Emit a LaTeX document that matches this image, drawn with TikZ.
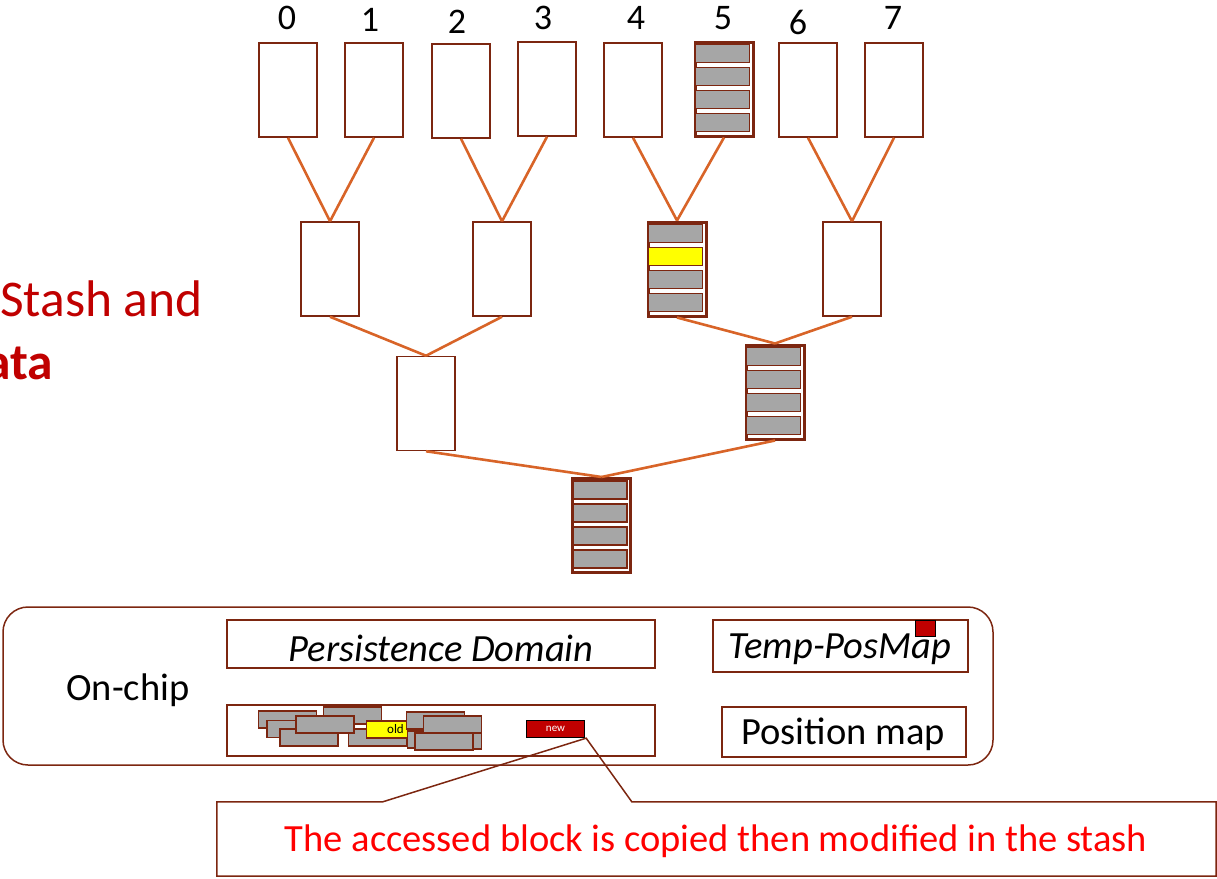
\documentclass[tikz,border=0pt]{standalone}
\usepackage{fontspec}
\setmainfont{Carlito}
\usetikzlibrary{calc}
\definecolor{brn}{RGB}{124,38,16}
\definecolor{edgeorange}{RGB}{216,100,40}
\definecolor{slotgray}{RGB}{166,166,166}
\definecolor{darkred}{RGB}{192,0,0}
\definecolor{slotyellow}{RGB}{255,255,0}
\begin{document}
\begin{tikzpicture}[x=1pt,y=-1pt,
  bucket/.style={draw=brn,line width=1.5pt,fill=white,minimum width=58pt,minimum height=94pt,inner sep=0pt},
  fullbucket/.style={bucket,line width=3pt},
  slot/.style={draw=brn,line width=1.5pt,fill=slotgray},
  treeedge/.style={draw=edgeorange,line width=2.6pt},
  idx/.style={font=\fontsize{36}{38}\selectfont,inner sep=0pt},
  panel/.style={draw=brn,line width=1.5pt,inner sep=0pt},
  blk/.style={draw=brn,line width=1.3pt,fill=slotgray,minimum width=58pt,minimum height=17pt,inner sep=0pt},
  bigtxt/.style={font=\fontsize{38.5}{42}\selectfont}
]
\useasboundingbox (0,0) rectangle (1217,878);

% heading fragment on the left
\node[anchor=east,text=darkred,font=\fontsize{51.5}{56}\selectfont,inner sep=0pt] (head1) at (203,299) {Stash and};
\node[anchor=east,text=darkred,font=\fontsize{51.5}{56}\selectfont\bfseries,inner sep=0pt] (head2) at (53,362) {data};

% leaves
\node[bucket] (l0) at (288,90) {};
\node[bucket] (l1) at (374,90) {};
\node[bucket] (l2) at (461,91) {};
\node[bucket] (l3) at (547,89) {};
\node[bucket] (l4) at (633,90) {};
\node[fullbucket] (l5) at (724,89) {};
\node[bucket] (l6) at (808,90) {};
\node[bucket] (l7) at (894,90) {};

% leaf indices
\node[idx] (i0) at (287,18) {0};
\node[idx] (i1) at (370,20) {1};
\node[idx] (i2) at (457,22) {2};
\node[idx] (i3) at (543,18) {3};
\node[idx] (i4) at (636,18) {4};
\node[idx] (i5) at (723,18) {5};
\node[idx] (i6) at (798,22) {6};
\node[idx] (i7) at (893,18) {7};

% inner levels
\node[bucket] (m0) at (330,269) {};
\node[bucket] (m1) at (502,269) {};
\node[fullbucket] (m2) at (677,269) {};
\node[bucket] (m3) at (852,269) {};
\node[bucket] (n0) at (426,403.5) {};
\node[fullbucket] (n1) at (775,392) {};
\node[fullbucket] (root) at (601.5,525.5) {};

% slots in the occupied buckets
\foreach \b in {l5,m2,n1,root}{
  \foreach \i in {0,...,3}{
    \draw[slot] ($(\b.north west)+(2,4+\i*23)$) rectangle ++(54,18);
  }
}
\draw[slot,fill=slotyellow] ($(m2.north west)+(2,27)$) rectangle ++(54,18);

% tree edges
\foreach \c/\p in {l0/m0,l1/m0,l2/m1,l3/m1,l4/m2,l5/m2,l6/m3,l7/m3,m0/n0,m1/n0,m2/n1,m3/n1,n0/root,n1/root}{
  \draw[treeedge] (\c.south) -- (\p.north);
}

% on-chip area
\node[panel,rounded corners=25pt,minimum width=990pt,minimum height=158pt] (onchip) at (498,686) {};
\node[bigtxt,inner sep=0pt] (onchiplbl) at (128,690) {On-chip};
\node[panel,minimum width=428pt,minimum height=48pt] (persist) at (441,644) {};
\node[bigtxt,inner sep=0pt] (persistlbl) at (441,648) {\itshape Persistence Domain};
\node[panel,minimum width=255pt,minimum height=52pt] (tmppos) at (840.5,646) {};
\node[bigtxt,inner sep=0pt] (tmpposlbl) at (840,649) {\itshape Temp-PosMap};
\node[draw=black,line width=1pt,fill=darkred,minimum width=20pt,minimum height=16pt,inner sep=0pt] (tmpmark) at (925,628) {};
\node[panel,minimum width=428pt,minimum height=51pt] (stash) at (441,730.5) {};
\node[panel,minimum width=244pt,minimum height=50pt] (posmap) at (844,732) {};
\node[bigtxt,inner sep=0pt] (posmaplbl) at (843,734) {Position map};

% stash contents
\node[blk] (s2) at (352.5,715.5) {};
\node[blk] (s1) at (287.5,719.5) {};
\node[blk] (s3) at (296,729) {};
\node[blk] (s4) at (309,737.5) {};
\node[blk] (s6) at (377.5,737.5) {};
\node[blk] (s5) at (325,724.5) {};
\node[blk,fill=slotyellow,font=\fontsize{13}{13}\selectfont] (old) at (395.5,729.5) {old};
\node[blk] (r1) at (435.5,720.5) {};
\node[blk] (r2) at (452.5,740.5) {};
\node[blk] (r3) at (436.5,739.5) {};
\node[blk] (r4) at (444,741.5) {};
\node[blk] (r5) at (452.5,724.5) {};
\node[draw=black,line width=1.3pt,fill=darkred,text=white,minimum width=58pt,minimum height=17pt,inner sep=0pt,font=\fontsize{11}{11}\selectfont] (new) at (555.5,729) {new};

% callout
\node[minimum width=999pt,minimum height=74pt,inner sep=0pt] (note) at (716.5,839) {};
\node[text=red,bigtxt,inner sep=0pt] (notetxt) at (716,841) {The accessed block is copied then modified in the stash};
\coordinate (tip) at ($(new.south east)+(1,0)$);
\draw[brn,line width=1.5pt,line join=miter]
  (note.north west) -- ($(note.north west)+(166,0)$) -- (tip) -- ($(note.north west)+(415,0)$)
  -- (note.north east) -- (note.south east) -- (note.south west) -- cycle;
\end{tikzpicture}
\end{document}
